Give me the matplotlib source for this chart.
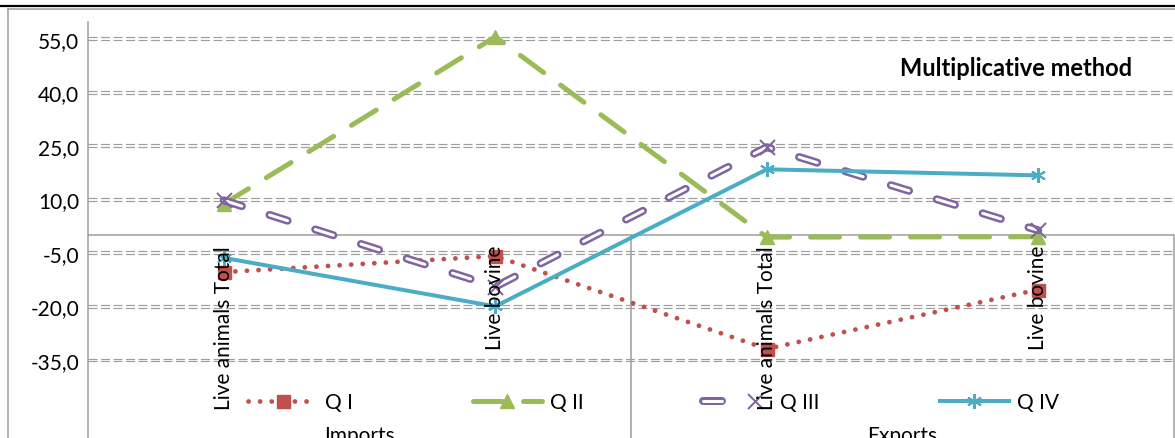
import matplotlib
matplotlib.use("Agg")
import numpy as np
import matplotlib.pyplot as plt
import matplotlib.patheffects as pe
from matplotlib.lines import Line2D
from matplotlib.transforms import ScaledTranslation
from matplotlib.legend_handler import HandlerTuple

# ---- data ----
categories = ["Live animals Total", "Live bovine", "Live animals Total", "Live bovine"]
groups = ["Imports", "Exports"]
series_names = ["Q I", "Q II", "Q III", "Q IV"]
q1 = [-10.4, -5.9, -31.9, -15.3]
q2 = [8.7, 55.5, -0.6, -0.5]
q3 = [9.7, -14.5, 24.6, 1.3]
q4 = [-6.4, -20.0, 18.4, 16.7]
ytick_values = [55, 40, 25, 10, -5, -20, -35]
chart_title = "Multiplicative method"

# ---- styling ----
W, H, DPI = 1175, 439, 100
plt.rcParams['font.family'] = ['Lato', 'DejaVu Sans']
plt.rcParams['lines.scale_dashes'] = False


def px(v):
    """pixels -> points"""
    return v * 72.0 / DPI


RED, GREEN, PURPLE, CYAN = '#C0504D', '#9BBB59', '#8064A2', '#4BACC6'
GRID = '#9E9E9E'
AXIS = '#9C9C9C'
FS = 15

fig = plt.figure(figsize=(W / DPI, H / DPI), dpi=DPI)
fig.patch.set_facecolor('white')

ax_left, ax_right, ax_top = 88, 1174, 23
zero_px, ppu = 236, 3.57
ax = fig.add_axes([ax_left / W, 0, (ax_right - ax_left) / W, 1 - ax_top / H])
ymin = -(H - zero_px) / ppu
ymax = (zero_px - ax_top) / ppu

x = np.arange(len(categories)) + 0.5

# double dashed gridlines
for v in ytick_values:
    for dy in (-1.4, 1.4):
        off = ScaledTranslation(0, dy / DPI, fig.dpi_scale_trans)
        ax.add_line(Line2D([0, 1], [v, v], color=GRID, lw=px(1.2),
                           dashes=(px(9), px(3.5)),
                           transform=ax.get_yaxis_transform() + off, zorder=1))

# category axis line and group boxes
ax.axhline(0, color=AXIS, lw=px(1.5), zorder=2)
for xs in (2, 4):
    ax.plot([xs, xs], [ymin, 0], color=AXIS, lw=px(1.5), clip_on=False, zorder=2)

# series
l1, = ax.plot(x, q1, color=RED, lw=px(4.8), dashes=(px(0.1), px(11.5)),
              dash_capstyle='round', marker='s', ms=px(13), mfc=RED, mec=RED,
              zorder=4)
l2, = ax.plot(x, q2, color=GREEN, lw=px(5), dashes=(px(29), px(21)),
              dash_capstyle='round', marker='^', ms=px(14), mfc=GREEN,
              mec=GREEN, zorder=4)
l3, = ax.plot(x, q3, color='white', lw=px(3), dashes=(px(19), px(29)),
              dash_capstyle='round', zorder=4,
              path_effects=[pe.Stroke(linewidth=px(8), foreground=PURPLE),
                            pe.Normal()])
m3, = ax.plot(x, q3, ls='none', marker='x', ms=px(15), mec=PURPLE,
              mew=px(2), zorder=4)
l4, = ax.plot(x, q4, color=CYAN, lw=px(4), marker=(6, 2, 0), ms=px(15),
              mec=CYAN, mew=px(2), zorder=4)

# axes
ax.set_xlim(0, len(categories))
ax.set_ylim(ymin, ymax)
ax.set_xticks([])
ax.set_yticks(ytick_values)
ax.set_yticklabels([f"{v:.1f}".replace('.', ',') for v in ytick_values])
ax.tick_params(axis='y', length=0, pad=px(9), labelsize=FS)
for side in ('top', 'right', 'bottom'):
    ax.spines[side].set_visible(False)
ax.spines['left'].set_color(AXIS)
ax.spines['left'].set_linewidth(px(1.5))
ax.set_facecolor('none')

# category labels
for xi, lab in zip(x, categories):
    ax.annotate(lab, (xi, 0), xytext=(0, -px(10)), textcoords='offset points',
                rotation=90, ha='center', va='top', fontsize=FS, zorder=10)

# group labels
group_y = (zero_px - 426) / ppu
for gi, g in enumerate(groups):
    ax.text(1 + 2 * gi, group_y, g, ha='center', va='top', fontsize=FS,
            zorder=10)

# legend
fs_px = FS / 72 * DPI
ax.legend([l1, l2, (l3, m3), l4], series_names,
          handler_map={tuple: HandlerTuple(ndivide=None)},
          ncol=4, frameon=False, loc='center left',
          bbox_to_anchor=(248 / W, 1 - 403 / H), bbox_transform=fig.transFigure,
          borderaxespad=0, borderpad=0, fontsize=FS, numpoints=1,
          handlelength=69 / fs_px, handletextpad=0.38,
          columnspacing=120 / fs_px)

# title
fig.text(1016 / W, 1 - 69 / H, chart_title, fontsize=17, fontweight='bold',
         ha='center', va='center')

# frame lines
fig.add_artist(Line2D([0, 1], [1 - 7.3 / H] * 2, color='black', lw=px(2.2),
                      transform=fig.transFigure))
fig.add_artist(Line2D([8 / W, 1], [1 - 9.6 / H] * 2, color='#9A9A9A',
                      lw=px(1.5), transform=fig.transFigure))
fig.add_artist(Line2D([8 / W, 8 / W], [0, 1 - 9.6 / H], color='#9A9A9A',
                      lw=px(1.5), transform=fig.transFigure))

fig.savefig('out.png', dpi=DPI)
